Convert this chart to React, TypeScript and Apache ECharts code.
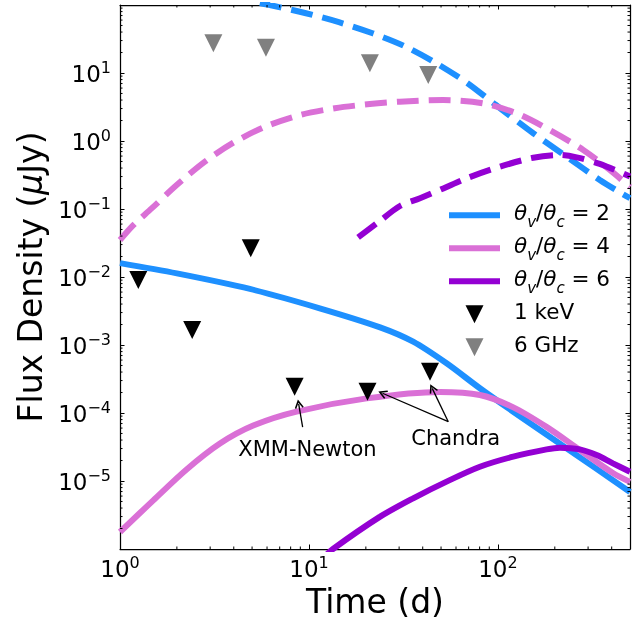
import React, { useEffect, useRef } from "react";
import * as echarts from "echarts";

const FONT = "DejaVu Sans";

// θv/θc = 2, 1 keV model (solid)
const xray2T = [1, 2, 4.87, 11.4, 23.8, 35.6, 53.5, 80.3, 120.5, 245.5, 500];
const xray2F = [0.016, 0.0113, 0.00667, 0.00347, 0.00182, 1.12e-3, 5.38e-4, 2.31e-4, 1.045e-4, 2.7e-5, 6.9e-6];
// θv/θc = 4, 1 keV model (solid)
const xray4T = [1, 1.5, 2.25, 3.38, 5.07, 8.6, 20.2, 49.3, 80.3, 120, 181.6, 271, 406, 500];
const xray4F = [1.78e-6, 5.2e-6, 1.48e-5, 3.56e-5, 6.54e-5, 1.05e-4, 1.64e-4, 2.04e-4, 1.84e-4, 1.22e-4, 6.2e-5, 2.86e-5, 1.31e-5, 9.7e-6];
// θv/θc = 6, 1 keV model (solid)
const xray6T = [12, 13.4, 23.8, 35.6, 53.5, 80.3, 120.5, 181, 213, 271, 333, 406, 500];
const xray6F = [7.5e-7, 1e-6, 2.99e-6, 5.57e-6, 9.8e-6, 1.62e-5, 2.28e-5, 2.92e-5, 3.09e-5, 2.92e-5, 2.41e-5, 1.82e-5, 1.37e-5];

// 6 GHz models (dashed)
const radio2T = [5.5, 6.2, 9.52, 14.4, 21.7, 31.8, 46.4, 68.3, 96.4, 153.8, 231, 346, 451, 500];
const radio2F = [107, 100, 76.3, 55.9, 38.4, 25.1, 14.3, 7.24, 3.47, 1.3, 0.588, 0.267, 0.17, 0.145];
const radio4T = [1, 1.176, 1.47, 1.995, 2.815, 3.98, 5.85, 8.96, 13.7, 21, 30.3, 51.4, 83.6, 125.6, 188, 283, 391, 500];
const radio4F = [0.035, 0.058, 0.102, 0.225, 0.497, 0.944, 1.62, 2.41, 3.03, 3.5, 3.79, 4.0, 3.58, 2.55, 1.45, 0.738, 0.375, 0.21];
const radio6T = [18.2, 23.2, 30.3, 38.7, 51.4, 68.3, 102.5, 153.8, 213, 261, 346, 500];
const radio6F = [0.0383, 0.0635, 0.1107, 0.1436, 0.201, 0.283, 0.419, 0.568, 0.622, 0.575, 0.46, 0.3];

// Upper limits
const keVT = [1.25, 2.41, 4.92, 8.4, 20.4, 43.7];
const keVF = [0.009, 1.66e-3, 0.0264, 2.44e-4, 2.06e-4, 4.05e-4];
const ghzT = [3.12, 5.92, 21.0, 42.8];
const ghzF = [27.3, 23.5, 13.9, 9.35];

// Annotations
const labelNames = ["XMM-Newton", "Chandra"];
const labelT = [9.82, 59.8];
const labelF = [2.96e-5, 4.36e-5];
const arrowTailT = [9.26, 54.6, 54.6];
const arrowTailF = [6.2e-5, 7.45e-5, 7.45e-5];
const arrowHeadT = [8.82, 24.5, 44.9];
const arrowHeadF = [1.36e-4, 1.95e-4, 2.3e-4];

const XMIN = 1, XMAX = 500, YMIN = 1e-6, YMAX = 100;

const BLUE = "#1E90FF", ORCHID = "#DA70D6", VIOLET = "#9400D3", GRAY = "#808080";
const N2 = "θv/θc = 2", N4 = "θv/θc = 4", N6 = "θv/θc = 6";
const TRI = "path://M0,0L2,0L1,2Z";
const LINE_ICON = "path://M0,0H51V6H0Z";
const ARROW = "path://M5,0L10,9L8.6,10L5,3.6L1.4,10L0,9Z";

const zip = (a: number[], b: number[]) => a.map((v, i) => [v, b[i]]);

function minorTicks() {
  const out: number[][] = [];
  for (let k = 0; k <= 2; k++) for (let m = 2; m <= 9; m++) {
    const v = m * Math.pow(10, k);
    if (v < XMAX) { out.push([v, YMIN, 1]); out.push([v, YMAX, 2]); }
  }
  for (let k = -6; k <= 1; k++) for (let m = 2; m <= 9; m++) {
    const v = m * Math.pow(10, k);
    out.push([XMIN, v, 3]); out.push([XMAX, v, 4]);
  }
  return out;
}

const tickRich = {
  b: { fontFamily: FONT, fontSize: 23, lineHeight: 24, verticalAlign: "bottom", color: "#000" },
  s: { fontFamily: FONT, fontSize: 16, lineHeight: 16, padding: [0, 0, 10, 0], verticalAlign: "bottom", color: "#000" },
};

function powLabel(v: number, lo: number, hi: number) {
  const e = Math.log10(v);
  const r = Math.round(e);
  if (Math.abs(e - r) > 1e-6 || r < lo || r > hi) return "";
  return `{b|10}{s|${r < 0 ? "\u2212" + -r : r}}`;
}

const axisCommon = {
  type: "log" as const,
  logBase: 10,
  axisLine: { show: true, onZero: false, lineStyle: { color: "#000", width: 1.25 } },
  axisTick: { show: true, inside: true, length: 4.5, lineStyle: { color: "#000", width: 1 } },
  splitLine: { show: false },
  minorTick: { show: false },
};

const LH = 28;

export default function App() {
  const ref = useRef<HTMLDivElement>(null);
  useEffect(() => {
    document.body.style.margin = "0";
    const chart = echarts.init(ref.current!, null, { renderer: "svg" });
    const lineSeries = (name: string, t: number[], f: number[], color: string, dashed: boolean) => ({
      type: "line",
      name,
      data: zip(t, f),
      symbol: "none",
      showSymbol: false,
      smooth: 0.3,
      clip: true,
      itemStyle: { color },
      lineStyle: { color, width: 6, type: dashed ? [22, 10] : "solid", cap: "butt" },
      emphasis: { disabled: true },
      silent: true,
    });
    chart.setOption({
      animation: false,
      grid: { left: 120, right: 9, top: 5, bottom: 69, containLabel: false, outerBoundsMode: "none" },
      xAxis: [
        {
          ...axisCommon,
          min: XMIN, max: XMAX, splitNumber: 3,
          axisLabel: { margin: 7, formatter: (v: number) => powLabel(v, -10, 10), rich: tickRich },
          name: "Time (d)", nameLocation: "middle", nameGap: 30,
          nameTextStyle: { fontFamily: FONT, fontSize: 33, lineHeight: 33, color: "#000" },
        },
        { ...axisCommon, position: "top", min: XMIN, max: XMAX, splitNumber: 3, axisLabel: { show: false } },
      ],
      yAxis: [
        {
          ...axisCommon,
          min: YMIN, max: YMAX, splitNumber: 8,
          axisLabel: { margin: 9, formatter: (v: number) => powLabel(v, -5, 1), rich: tickRich },
          name: "{n|Flux Density (}{m|μ}{n|Jy)}", nameLocation: "middle", nameGap: 66, nameRotate: 90,
          nameTextStyle: {
            fontFamily: FONT, fontSize: 33, color: "#000",
            rich: {
              n: { fontFamily: FONT, fontSize: 33, color: "#000" },
              m: { fontFamily: FONT, fontSize: 33, fontStyle: "italic", color: "#000" },
            },
          },
        },
        { ...axisCommon, position: "right", min: YMIN, max: YMAX, splitNumber: 8, axisLabel: { show: false } },
      ],
      legend: {
        orient: "vertical", left: 449, top: 201.2, itemWidth: 51, itemHeight: 18, itemGap: 33.0 - LH,
        padding: 0, selectedMode: false, symbolKeepAspect: true,
        data: [
          { name: N2, icon: LINE_ICON },
          { name: N4, icon: LINE_ICON },
          { name: N6, icon: LINE_ICON },
          { name: "1 keV", icon: TRI },
          { name: "6 GHz", icon: TRI },
        ],
        formatter: (name: string) =>
          name.startsWith("θ")
            ? `{th|θ}{sb|v}{n|/}{th|θ}{sb|c}{n| = ${name.slice(-1)}}`
            : `{n|${name}}{sb| }`,
        textStyle: {
          fontFamily: FONT, fontSize: 21.5, color: "#000", lineHeight: LH, padding: [0, 0, 0, 9],
          rich: {
            th: { fontFamily: FONT, fontSize: 21.5, fontStyle: "italic", lineHeight: LH, verticalAlign: "top", color: "#000" },
            n: { fontFamily: FONT, fontSize: 21.5, lineHeight: LH, verticalAlign: "top", color: "#000" },
            sb: { fontFamily: FONT, fontSize: 15, fontStyle: "italic", lineHeight: 15, padding: [13, 0, 0, 0], verticalAlign: "top", color: "#000" },
          },
        },
      },
      series: [
        lineSeries(N2, xray2T, xray2F, BLUE, false),
        lineSeries("r2", radio2T, radio2F, BLUE, true),
        lineSeries(N4, xray4T, xray4F, ORCHID, false),
        lineSeries("r4", radio4T, radio4F, ORCHID, true),
        lineSeries(N6, xray6T, xray6F, VIOLET, false),
        lineSeries("r6", radio6T, radio6F, VIOLET, true),
        {
          type: "scatter", name: "1 keV", data: zip(keVT, keVF),
          symbol: TRI, symbolSize: 18, symbolKeepAspect: true,
          itemStyle: { color: "#000", opacity: 1 }, silent: true, z: 5,
          markLine: {
            silent: true, animation: false,
            symbol: ["none", ARROW], symbolSize: 9,
            itemStyle: { color: "#000" },
            label: { show: false },
            emphasis: { disabled: true },
            lineStyle: { color: "#000", width: 1.3, type: "solid", curveness: -0.15, opacity: 1 },
            data: arrowTailT.map((t, i) => [
              { coord: [t, arrowTailF[i]] },
              { coord: [arrowHeadT[i], arrowHeadF[i]] },
            ]),
          },
          markPoint: {
            silent: true, animation: false,
            symbol: "circle", symbolSize: 0,
            itemStyle: { color: "transparent" },
            label: { show: true, position: "inside", formatter: "{b}", fontFamily: FONT, fontSize: 21, color: "#000" },
            data: labelNames.map((n, i) => ({ name: n, coord: [labelT[i], labelF[i]] })),
          },
        },
        {
          type: "scatter", name: "6 GHz", data: zip(ghzT, ghzF),
          symbol: TRI, symbolSize: 18, symbolKeepAspect: true,
          itemStyle: { color: GRAY, opacity: 1 }, silent: true, z: 5,
        },
        {
          type: "custom", name: "minor", silent: true, clip: false, z: 6,
          dimensions: ["t", "f", "side"],
          encode: { x: 0, y: 1 },
          data: minorTicks(),
          renderItem: (_p: any, api: any) => {
            const side = api.value(2);
            const p = api.coord([api.value(0), api.value(1)]);
            const L = 2.5;
            let x2 = p[0], y2 = p[1];
            if (side === 1) y2 = p[1] - L;
            else if (side === 2) y2 = p[1] + L;
            else if (side === 3) x2 = p[0] + L;
            else x2 = p[0] - L;
            return { type: "line", shape: { x1: p[0], y1: p[1], x2, y2 }, style: { stroke: "#000", lineWidth: 1 } };
          },
        },
      ],
    });
    return () => chart.dispose();
  }, []);
  return <div ref={ref} style={{ position: "fixed", left: 0, top: 0, width: 639, height: 618 }} />;
}
